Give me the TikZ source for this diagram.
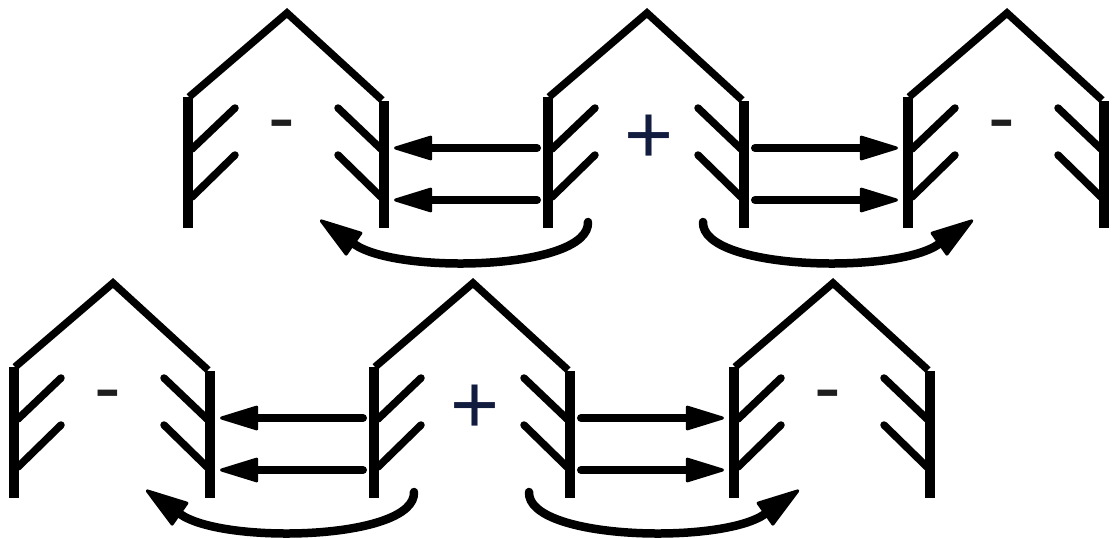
\documentclass[tikz,border=0pt]{standalone}
\usepackage{fontspec}
\setmainfont{Liberation Sans}
\usetikzlibrary{arrows.meta}
\definecolor{signgray}{RGB}{30,30,30}
\definecolor{signnavy}{RGB}{18,28,62}
\newcommand\drawhouse[5]{%
  % #1 name, #2 x, #3 y, #4 sign style, #5 sign text
  \begin{scope}[shift={(#2,#3)}]
    \draw[wall] (0,228) -- (0,97);
    \draw[roofline] (1,97) -- (99,13) -- (194,100);
    \draw[wall] (196,101) -- (196,228);
    \draw[barb] (4,149) -- (47,108) (4,197) -- (47,155);
    \draw[barb] (150,108) -- (193,149) (150,155) -- (193,197);
    \coordinate (#1-L1) at (0,148);
    \coordinate (#1-L2) at (0,200);
    \coordinate (#1-R1) at (196,148);
    \coordinate (#1-R2) at (196,200);
    \coordinate (#1-sL) at (40,222);
    \coordinate (#1-sR) at (155,222);
    \coordinate (#1-eR) at (132,220);
    \coordinate (#1-eL) at (65,220);
    \node[#4] (#1-sign) at (0,0) {#5};
  \end{scope}}
\begin{document}
\begin{tikzpicture}[x=1pt,y=-1pt,
  wall/.style={line width=10pt},
  roofline/.style={line width=7.5pt, line join=miter},
  barb/.style={line width=7.5pt, line cap=round},
  flow/.style={line width=8pt, line cap=round,
    -{Triangle[length=42pt 0,width=25pt 0,round,line width=3pt]},
    shorten <=11pt, shorten >=10pt},
  swirl/.style={line width=8.5pt, line cap=round,
    -{Triangle[length=46pt 0,width=29pt 0,round,line width=3pt]}},
  minussign/.style={font=\fontsize{80}{80}\selectfont, text=signgray, inner sep=0pt,
    anchor=base, xshift=94pt, yshift=-144pt},
  plussign/.style={font=\fontsize{84}{84}\selectfont, text=signnavy, inner sep=0pt,
    anchor=base, xshift=101pt, yshift=-163pt}]
\useasboundingbox (0,0) rectangle (1116,538);
\fill[white] (0,0) rectangle (1116,538);
% top row
\drawhouse{h1}{188}{0}{minussign}{-}
\drawhouse{h2}{548}{0}{plussign}{+}
\drawhouse{h3}{908}{0}{minussign}{-}
% bottom row
\drawhouse{h4}{14}{270}{minussign}{-}
\drawhouse{h5}{374}{270}{plussign}{+}
\drawhouse{h6}{734}{270}{minussign}{-}
% straight arrows
\draw[flow] (h2-L1) -- (h1-R1);
\draw[flow] (h2-L2) -- (h1-R2);
\draw[flow] (h2-R1) -- (h3-L1);
\draw[flow] (h2-R2) -- (h3-L2);
\draw[flow] (h5-L1) -- (h4-R1);
\draw[flow] (h5-L2) -- (h4-R2);
\draw[flow] (h5-R1) -- (h6-L1);
\draw[flow] (h5-R2) -- (h6-L2);
% curved arrows
\draw[swirl] (h2-sL) .. controls +(2,48) and +(78,55) .. (h1-eR);
\draw[swirl] (h2-sR) .. controls +(-2,48) and +(-78,55) .. (h3-eL);
\draw[swirl] (h5-sL) .. controls +(2,48) and +(78,55) .. (h4-eR);
\draw[swirl] (h5-sR) .. controls +(-2,48) and +(-78,55) .. (h6-eL);
\end{tikzpicture}
\end{document}
